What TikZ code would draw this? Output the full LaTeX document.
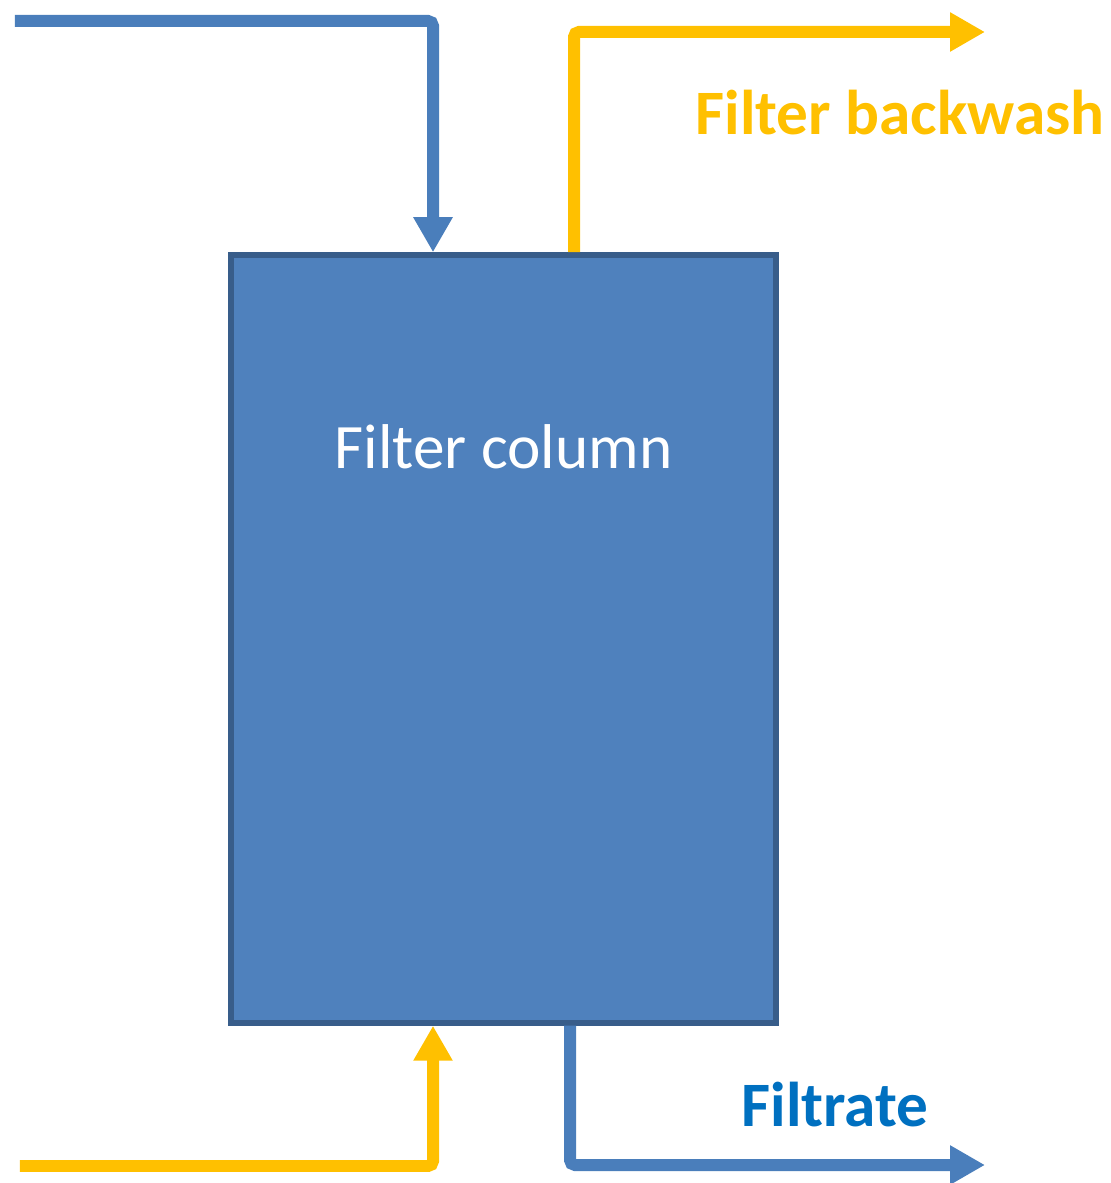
\documentclass[tikz,border=0pt]{standalone}
\usepackage{fontspec}
\setmainfont{Carlito}
\usetikzlibrary{arrows.meta,positioning}

\definecolor{pipeblue}{HTML}{4A7EBB}
\definecolor{pipeorange}{HTML}{FFC000}
\definecolor{colfill}{HTML}{4F81BD}
\definecolor{colborder}{HTML}{385D8A}
\definecolor{filtblue}{HTML}{0070C0}

\begin{document}
\begin{tikzpicture}[
	pipe/.style={line width=0.12cm,rounded corners=0.05cm,
		-{Triangle[width=0.37cm,length=0.35cm]}},
	column/.style={draw=colborder,fill=colfill,line width=0.055cm,
		minimum width=5.45cm,minimum height=7.68cm,inner sep=0pt},
	label/.style={font=\fontsize{18}{22}\selectfont\bfseries}
]

\def\pipeOff{0.705}
\def\outOff{0.665}

\useasboundingbox (0,0) rectangle (11.1,11.83);

% filter column
\node[column] (col) at (5.035,5.44) {};
\node[text=white,font=\fontsize{18}{22}\selectfont] (coltext) at ([yshift=-1.95cm]col.north) {Filter column};

% free ends
\coordinate (rawin) at (0.15,11.62);
\coordinate (washin) at (0.20,0.17);
\coordinate (washout) at (9.85,11.51);
\coordinate (filtout) at (9.85,0.18);

% raw water in
\draw[pipe,pipeblue] (rawin) -| ([xshift=-\pipeOff cm]col.north);
% backwash water in
\draw[pipe,pipeorange] (washin) -| ([xshift=-\pipeOff cm]col.south);

% backwash out
\draw[pipe,pipeorange] ([xshift=\pipeOff cm]col.north) |- (washout);
% filtrate out
\draw[pipe,pipeblue] ([xshift=\outOff cm]col.south) |- (filtout);

\node[label,text=pipeorange] (washlabel) at (9.0,10.70) {Filter backwash};
\node[label,text=filtblue] (filtlabel) at (8.35,0.78) {Filtrate};

\end{tikzpicture}
\end{document}
